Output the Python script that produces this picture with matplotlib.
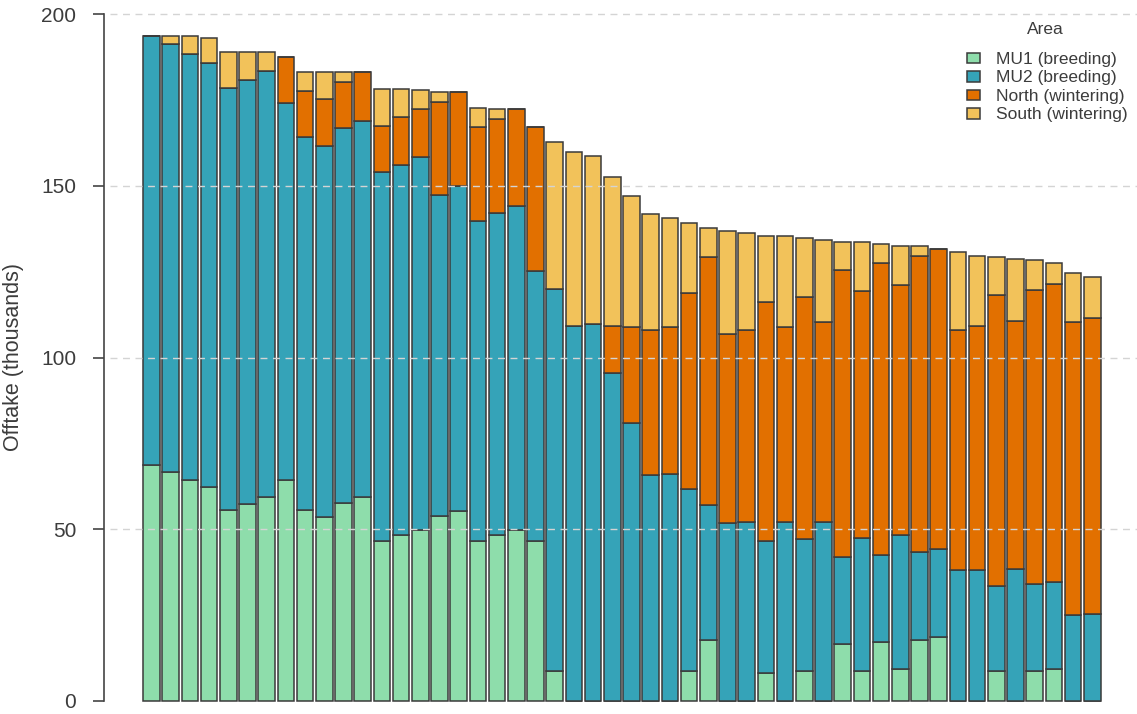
import matplotlib
matplotlib.use("Agg")
import matplotlib.pyplot as plt
from matplotlib.patches import Patch
import numpy as np

plt.rcParams['font.family'] = ['Liberation Sans', 'DejaVu Sans']

areas = ["MU1 (breeding)", "MU2 (breeding)", "North (wintering)", "South (wintering)"]
colors = ["#8EDDAB", "#35A3B8", "#E27000", "#F2C25A"]

mu1 = [68.6, 66.7, 64.3, 62.2, 55.6, 57.3, 59.3, 64.3, 55.6, 53.7,
       57.7, 59.5, 46.7, 48.2, 49.8, 54.0, 55.4, 46.7, 48.2, 49.8,
       46.7, 8.8, 0, 0, 0, 0, 0, 0, 8.8, 17.7,
       0, 0, 8.1, 0, 8.6, 0, 16.5, 8.8, 17.3, 9.3,
       17.8, 18.7, 0, 0, 8.6, 0, 8.8, 9.3, 0, 0]
mu2 = [125.1, 124.6, 124.0, 123.6, 122.8, 123.6, 124.2, 109.7, 108.7, 108.0,
       109.0, 109.4, 107.2, 107.8, 108.5, 93.4, 94.4, 92.9, 93.8, 94.3,
       78.5, 111.2, 109.3, 109.8, 95.4, 80.9, 65.9, 66.2, 52.9, 39.5,
       51.7, 52.0, 38.6, 52.0, 38.5, 52.2, 25.3, 38.6, 25.3, 38.9,
       25.7, 25.5, 38.2, 38.2, 25.0, 38.5, 25.3, 25.3, 24.9, 25.2]
north = [0, 0, 0, 0, 0, 0, 0, 13.4, 13.4, 13.5,
         13.4, 14.1, 13.5, 13.9, 14.0, 26.9, 27.4, 27.4, 27.4, 28.2,
         41.8, 0, 0, 0, 13.9, 27.9, 42.2, 42.6, 57.1, 72.1,
         55.1, 56.1, 69.4, 56.8, 70.5, 58.1, 83.6, 71.9, 84.9, 72.8,
         86.1, 87.3, 69.9, 71.1, 84.5, 72.2, 85.6, 86.9, 85.4, 86.2]
south = [0, 2.4, 5.4, 7.2, 10.6, 8.1, 5.5, 0, 5.3, 7.8,
         2.9, 0, 10.9, 8.4, 5.6, 2.9, 0, 5.6, 2.9, 0,
         0, 42.7, 50.5, 49.0, 43.2, 38.1, 33.7, 31.9, 20.3, 8.3,
         30.1, 28.0, 19.3, 26.6, 17.1, 23.9, 8.3, 14.4, 5.5, 11.5,
         2.9, 0, 22.7, 20.3, 11.2, 18.1, 8.6, 6.1, 14.3, 12.0]

yticks = [0, 50, 100, 150, 200]

W, H = 1137, 714
fig = plt.figure(figsize=(W / 100, H / 100), dpi=100)
left_px = 104
ax = fig.add_axes([left_px / W, 0, (W - left_px) / W, 1])

series = [mu1, mu2, north, south]
x = np.arange(len(mu1))
bottom = np.zeros(len(mu1))
for vals, col in zip(series, colors):
    v = np.array(vals, dtype=float)
    ax.bar(x, v, bottom=bottom, width=0.86, color=col,
           edgecolor="#3a3a3a", linewidth=1.1, zorder=2)
    bottom += v

ppu = 687 / 200.0
ax.set_ylim(-13 / ppu, 200 + 14 / ppu)
ax.set_xlim((left_px - 151.5) / 19.2, (W - 151.5) / 19.2)

for yv in yticks[1:]:
    ax.axhline(yv, xmin=0.006, xmax=1, color="#d4d4d4", lw=1.0,
               ls=(0, (5, 4)), zorder=3)

for s in ["top", "right", "bottom"]:
    ax.spines[s].set_visible(False)
ax.spines["left"].set_bounds(0, 200)
ax.spines["left"].set_color("#444444")
ax.spines["left"].set_linewidth(1.2)
ax.set_xticks([])
ax.set_yticks(yticks)
ax.set_yticklabels([str(t) for t in yticks])
ax.tick_params(axis="y", length=8, width=1.2, color="#444444",
               labelsize=15, labelcolor="#3c3c3c", pad=12)
ax.patch.set_alpha(0)

fig.text(14 / W, 1 - 357 / H, "Offtake (thousands)", rotation=90,
         ha="center", va="center", fontsize=15.5, color="#3c3c3c")

fig.text(1045 / W, 1 - 29 / H, "Area", ha="center", va="center",
         fontsize=12.5, color="#3c3c3c")

handles = [Patch(facecolor=c, edgecolor="#3a3a3a", linewidth=1.1) for c in colors]
leg = ax.legend(handles, areas, loc="upper left",
                bbox_to_anchor=(967 / W, 1 - 52 / H), bbox_transform=fig.transFigure,
                frameon=False, fontsize=12.5,
                handlelength=0.75, handleheight=0.55, handletextpad=0.9,
                labelspacing=0.2, borderpad=0, borderaxespad=0)
for t in leg.get_texts():
    t.set_color("#3c3c3c")

fig.savefig("out.png", dpi=100)
